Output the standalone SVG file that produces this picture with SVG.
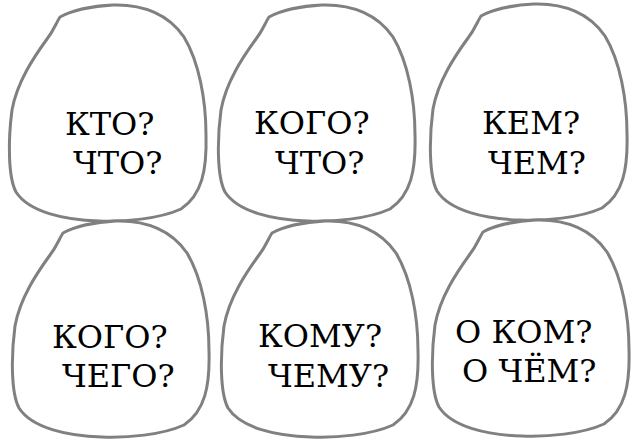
<svg xmlns="http://www.w3.org/2000/svg" xmlns:xlink="http://www.w3.org/1999/xlink" width="640" height="443" viewBox="0 0 640 443">
<style>
.blob{fill:#ffffff;stroke:#808080;stroke-width:3;stroke-linejoin:round}
.t{font-family:"DejaVu Serif","Liberation Serif",serif;font-size:32px;fill:#000000}
</style>
<defs>
<path id="stone" d="M51,12 C62,6 82,1 104,0 C135,-1 160,10 175,32 C190,57 197,95 197,130 C198,165 193,190 172,204 C150,214 115,217 90,216 C55,215 20,207 7,187 C-1,172 -1,135 3,105 C8,77 25,52 38,34 C45,25 47,18 51,12 Z"/>
</defs>
<rect width="640" height="443" fill="#ffffff"/>
<g id="node-kto">
<use xlink:href="#stone" class="blob" transform="translate(9,5)"/>
<text class="t" x="65" y="135">КТО?</text>
<text class="t" x="73" y="174">ЧТО?</text>
</g>
<g id="node-kogo-chto">
<use xlink:href="#stone" class="blob" transform="translate(218,5)"/>
<text class="t" x="254" y="134">КОГО?</text>
<text class="t" x="275" y="174">ЧТО?</text>
</g>
<g id="node-kem">
<use xlink:href="#stone" class="blob" transform="translate(430,4)"/>
<text class="t" x="482" y="134">КЕМ?</text>
<text class="t" x="488" y="174">ЧЕМ?</text>
</g>
<g id="node-kogo-chego">
<use xlink:href="#stone" class="blob" transform="translate(12,221)"/>
<text class="t" x="52" y="348">КОГО?</text>
<text class="t" x="62" y="387">ЧЕГО?</text>
</g>
<g id="node-komu">
<use xlink:href="#stone" class="blob" transform="translate(221,221)"/>
<text class="t" x="258" y="347">КОМУ?</text>
<text class="t" x="268" y="387">ЧЕМУ?</text>
</g>
<g id="node-o-kom">
<use xlink:href="#stone" class="blob" transform="translate(432,220)"/>
<text class="t" x="455" y="343">О КОМ?</text>
<text class="t" x="462" y="382">О ЧЁМ?</text>
</g>
<g id="connectors"></g>
</svg>
